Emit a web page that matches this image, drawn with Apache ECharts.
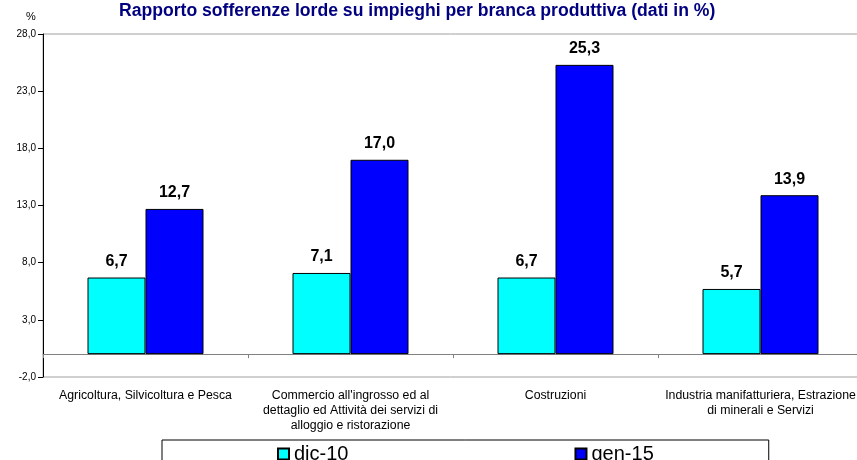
<!DOCTYPE html>
<html>
<head>
<meta charset="utf-8">
<script src="https://cdn.jsdelivr.net/npm/echarts@6/dist/echarts.min.js"></script>
<style>
    html, body { margin: 0; padding: 0; background: #fff; }
    #chart { width: 857px; height: 460px; }
</style>
</head>
<body>
<div id="chart"></div>
<script>
// categorie (branche produttive)
const categories = [
    'Agricoltura, Silvicoltura e Pesca',
    'Commercio all\'ingrosso ed al\ndettaglio ed Attività dei servizi di\nalloggio e ristorazione',
    'Costruzioni',
    'Industria manifatturiera, Estrazione\ndi minerali e Servizi'
];
const seriesNames = ['dic-10', 'gen-15'];
const dic10 = [6.7, 7.1, 6.7, 5.7];
const gen15 = [12.7, 17.0, 25.3, 13.9];
const yTicks = [-2, 3, 8, 13, 18, 23, 28];

const fmt = v => Number(v).toFixed(1).replace('.', ',');

const chart = echarts.init(document.getElementById('chart'));

function barSeries(name, data, color) {
    return {
        name: name,
        type: 'bar',
        data: data,
        barWidth: 58,
        barGap: '0%',
        itemStyle: {
            color: color,
            borderColor: '#000',
            borderWidth: 1
        },
        label: {
            show: true,
            position: 'top',
            distance: 8,
            color: '#000',
            fontSize: 16,
            fontWeight: 'bold',
            formatter: p => fmt(p.value)
        },
        animation: false
    };
}

chart.setOption({
    textStyle: {
        fontFamily: 'Liberation Sans, Arial, sans-serif'
    },
    title: [
        {
            text: 'Rapporto sofferenze lorde su impieghi per branca produttiva (dati in %)',
            left: 114,
            top: -3,
            textStyle: {
                color: '#000080',
                fontSize: 17.6,
                fontWeight: 'bold'
            }
        },
        {
            text: '%',
            left: 21,
            top: 6,
            textStyle: {
                color: '#000',
                fontSize: 11,
                fontWeight: 'normal'
            }
        }
    ],
    grid: {
        left: 43,
        right: -6,
        top: 34,
        bottom: 83,
        show: true,
        borderColor: '#a0a0a0',
        borderWidth: 1,
        outerBoundsMode: 'none'
    },
    legend: {
        data: seriesNames,
        left: 162,
        top: 440,
        orient: 'horizontal',
        padding: [4, 115, 10, 115],
        itemGap: 226,
        itemWidth: 11,
        itemHeight: 11,
        borderColor: '#000',
        borderWidth: 1,
        icon: 'rect',
        textStyle: {
            fontSize: 20,
            color: '#000'
        }
    },
    xAxis: {
        type: 'category',
        data: categories,
        axisLine: {
            onZero: true,
            lineStyle: { color: '#808080', width: 1 }
        },
        axisTick: {
            show: true,
            length: 4,
            lineStyle: { color: '#808080' }
        },
        axisLabel: {
            interval: 0,
            margin: 11,
            color: '#000',
            fontSize: 12.3,
            lineHeight: 15,
            align: 'center'
        }
    },
    yAxis: {
        type: 'value',
        min: -2,
        max: 28,
        splitLine: { show: false },
        axisLine: {
            show: true,
            lineStyle: { color: '#000', width: 1 }
        },
        axisTick: {
            show: true,
            length: 5,
            customValues: yTicks,
            lineStyle: { color: '#000' }
        },
        axisLabel: {
            customValues: yTicks,
            margin: 7,
            color: '#000',
            fontSize: 10,
            formatter: v => fmt(v)
        }
    },
    series: [
        barSeries(seriesNames[0], dic10, '#00FFFF'),
        barSeries(seriesNames[1], gen15, '#0000FF')
    ]
});
</script>
</body>
</html>
